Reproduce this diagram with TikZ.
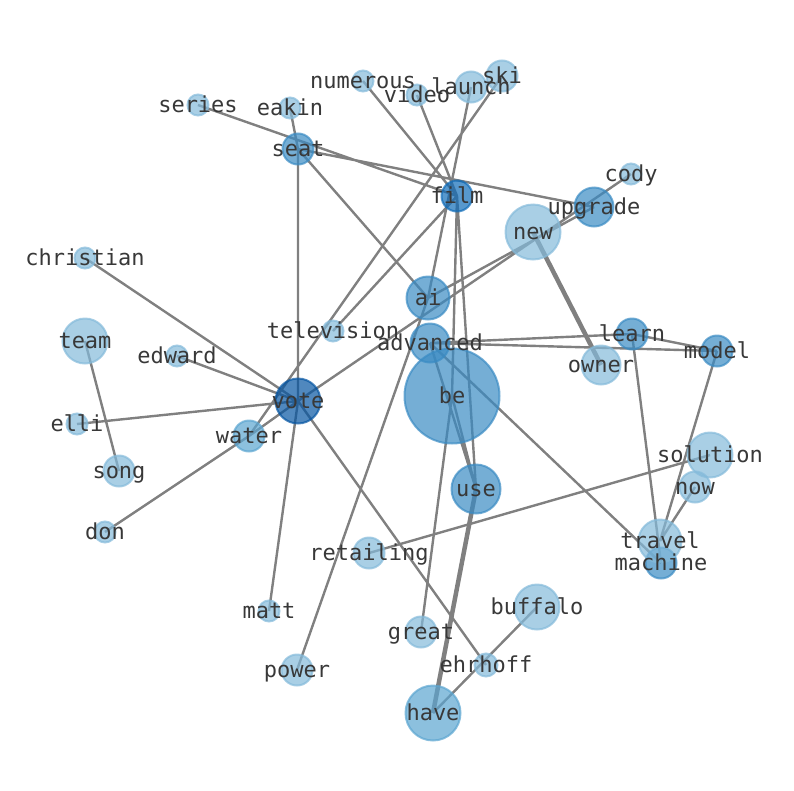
\documentclass[tikz,border=0pt]{standalone}
\usepackage{fontspec}
\setmonofont{DejaVu Sans Mono}
\pgfdeclarelayer{bg}
\pgfsetlayers{bg,main}
\definecolor{pale}{RGB}{132,186,218}
\definecolor{soft}{RGB}{91,165,208}
\definecolor{mid}{RGB}{58,139,195}
\definecolor{deep}{RGB}{16,108,184}
\definecolor{dark}{RGB}{5,85,162}
\tikzset{
 edge/.style={draw=gray,line width=2.4pt},
 bold/.style={draw=gray,line width=4.5pt},
 dot/.style={circle,inner sep=0pt,minimum size=#1,fill opacity=0.7,draw opacity=0.7,line width=2pt},
 word/.style={font=\ttfamily\fontsize{22}{24}\selectfont,text=black!78,inner sep=0pt,text height=0.76em,text depth=0.24em,yshift=-5pt}
}
\begin{document}
\begin{tikzpicture}[x=1pt,y=-1pt]
 \useasboundingbox (0,0) rectangle (794,790);
 \node[dot=21,fill=pale,draw=pale] (series) at (198,105) {};
 \node[dot=21,fill=pale,draw=pale] (eakin) at (290,108) {};
 \node[dot=21,fill=pale,draw=pale] (video) at (417,95) {};
 \node[dot=21,fill=pale,draw=pale] (numerous) at (363,81) {};
 \node[dot=31,fill=pale,draw=pale] (ski) at (502,76) {};
 \node[dot=31,fill=pale,draw=pale] (launch) at (471,87) {};
 \node[dot=31,fill=mid,draw=mid] (seat) at (298,149) {};
 \node[dot=21,fill=pale,draw=pale] (cody) at (631,174) {};
 \node[dot=31,fill=deep,draw=deep] (film) at (457,196) {};
 \node[dot=55,fill=pale,draw=pale] (new) at (533,232) {};
 \node[dot=39,fill=mid,draw=mid] (upgrade) at (594,207) {};
 \node[dot=21,fill=pale,draw=pale] (christian) at (85,258) {};
 \node[dot=43,fill=mid,draw=mid] (ai) at (428,298) {};
 \node[dot=21,fill=pale,draw=pale] (television) at (333,331) {};
 \node[dot=45,fill=pale,draw=pale] (team) at (85,341) {};
 \node[dot=21,fill=pale,draw=pale] (edward) at (177,356) {};
 \node[dot=95,fill=mid,draw=mid] (be) at (452,396) {};
 \node[dot=39,fill=mid,draw=mid] (advanced) at (430,343) {};
 \node[dot=31,fill=mid,draw=mid] (learn) at (632,334) {};
 \node[dot=31,fill=mid,draw=mid] (model) at (717,351) {};
 \node[dot=39,fill=pale,draw=pale] (owner) at (601,365) {};
 \node[dot=45,fill=dark,draw=dark] (vote) at (298,401) {};
 \node[dot=21,fill=pale,draw=pale] (elli) at (77,424) {};
 \node[dot=31,fill=soft,draw=soft] (water) at (249,436) {};
 \node[dot=45,fill=pale,draw=pale] (solution) at (710,455) {};
 \node[dot=31,fill=pale,draw=pale] (song) at (119,471) {};
 \node[dot=49,fill=mid,draw=mid] (use) at (476,489) {};
 \node[dot=31,fill=pale,draw=pale] (now) at (695,487) {};
 \node[dot=21,fill=pale,draw=pale] (don) at (105,532) {};
 \node[dot=31,fill=mid,draw=mid] (machine) at (661,563) {};
 \node[dot=43,fill=pale,draw=pale] (travel) at (660,541) {};
 \node[dot=31,fill=pale,draw=pale] (retailing) at (369,553) {};
 \node[dot=45,fill=pale,draw=pale] (buffalo) at (537,607) {};
 \node[dot=21,fill=pale,draw=pale] (matt) at (269,611) {};
 \node[dot=31,fill=pale,draw=pale] (great) at (421,632) {};
 \node[dot=23,fill=pale,draw=pale] (ehrhoff) at (486,665) {};
 \node[dot=31,fill=pale,draw=pale] (power) at (297,670) {};
 \node[dot=55,fill=soft,draw=soft] (have) at (433,713) {};
 \begin{pgfonlayer}{bg}
 \draw[edge] (series.center)--(film.center) (eakin.center)--(seat.center)
  (seat.center)--(vote.center) (seat.center)--(ai.center) (seat.center)--(upgrade.center)
  (numerous.center)--(film.center) (video.center)--(film.center) (launch.center)--(ai.center)
  (ski.center)--(water.center) (cody.center)--(vote.center) (upgrade.center)--(ai.center)
  (film.center)--(television.center) (film.center)--(be.center) (film.center)--(use.center)
  (christian.center)--(vote.center) (edward.center)--(vote.center) (elli.center)--(vote.center)
  (water.center)--(vote.center) (water.center)--(don.center) (team.center)--(song.center)
  (vote.center)--(matt.center) (vote.center)--(ehrhoff.center) (power.center)--(ai.center)
  (advanced.center)--(learn.center) (advanced.center)--(model.center) (learn.center)--(model.center)
  (advanced.center)--(machine.center) (advanced.center)--(use.center) (be.center)--(use.center)
  (be.center)--(great.center) (learn.center)--(machine.center) (model.center)--(travel.center)
  (now.center)--(travel.center) (solution.center)--(retailing.center) (buffalo.center)--(have.center);
 \draw[bold] (new.center)--(owner.center) (use.center)--(have.center);
 \end{pgfonlayer}
 \node[word] (series-t) at (series) {series};
 \node[word] (eakin-t) at (eakin) {eakin};
 \node[word] (video-t) at (video) {video};
 \node[word] (numerous-t) at (numerous) {numerous};
 \node[word] (ski-t) at (ski) {ski};
 \node[word] (launch-t) at (launch) {launch};
 \node[word] (seat-t) at (seat) {seat};
 \node[word] (cody-t) at (cody) {cody};
 \node[word] (film-t) at (film) {film};
 \node[word] (new-t) at (new) {new};
 \node[word] (upgrade-t) at (upgrade) {upgrade};
 \node[word] (christian-t) at (christian) {christian};
 \node[word] (ai-t) at (ai) {ai};
 \node[word] (television-t) at (television) {television};
 \node[word] (team-t) at (team) {team};
 \node[word] (edward-t) at (edward) {edward};
 \node[word] (be-t) at (be) {be};
 \node[word] (advanced-t) at (advanced) {advanced};
 \node[word] (learn-t) at (learn) {learn};
 \node[word] (model-t) at (model) {model};
 \node[word] (owner-t) at (owner) {owner};
 \node[word] (vote-t) at (vote) {vote};
 \node[word] (elli-t) at (elli) {elli};
 \node[word] (water-t) at (water) {water};
 \node[word] (solution-t) at (solution) {solution};
 \node[word] (song-t) at (song) {song};
 \node[word] (use-t) at (use) {use};
 \node[word] (now-t) at (now) {now};
 \node[word] (don-t) at (don) {don};
 \node[word] (machine-t) at (machine) {machine};
 \node[word] (travel-t) at (travel) {travel};
 \node[word] (retailing-t) at (retailing) {retailing};
 \node[word] (buffalo-t) at (buffalo) {buffalo};
 \node[word] (matt-t) at (matt) {matt};
 \node[word] (great-t) at (great) {great};
 \node[word] (ehrhoff-t) at (ehrhoff) {ehrhoff};
 \node[word] (power-t) at (power) {power};
 \node[word] (have-t) at (have) {have};
\end{tikzpicture}
\end{document}
